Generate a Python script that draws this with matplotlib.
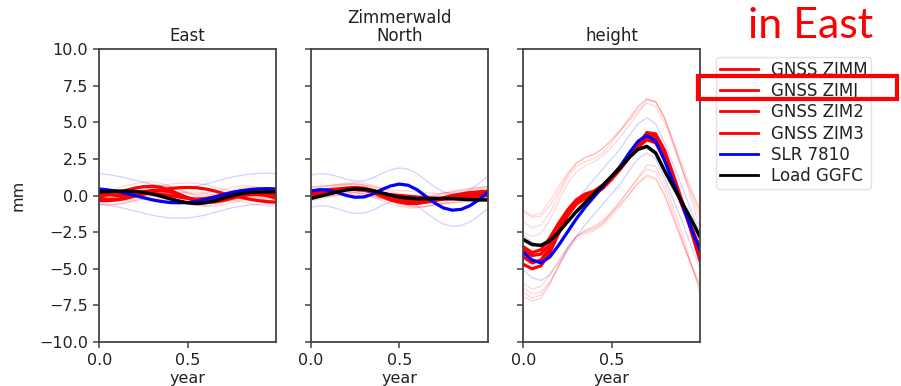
import matplotlib
matplotlib.use("Agg")
import matplotlib.pyplot as plt
from matplotlib.patches import Rectangle
import numpy as np

# ---------------- data ----------------
t = [0.00, 0.05, 0.10, 0.15, 0.20, 0.25, 0.30, 0.35, 0.40, 0.45, 0.50,
     0.55, 0.60, 0.65, 0.70, 0.75, 0.80, 0.85, 0.90, 0.95, 1.00]

series_labels = ["GNSS ZIMM", "GNSS ZIMJ", "GNSS ZIM2", "GNSS ZIM3", "SLR 7810", "Load GGFC"]
panel_titles = ["East", "Zimmerwald\nNorth", "height"]

# East
east_zimm = [-0.05, 0.05, 0.2, 0.35, 0.5, 0.6, 0.63, 0.55, 0.35, 0.1, -0.15,
             -0.35, -0.45, -0.45, -0.35, -0.2, -0.05, 0.05, 0.05, 0.0, -0.1]
east_zimj = [-0.35, -0.35, -0.3, -0.2, -0.05, 0.1, 0.25, 0.38, 0.47, 0.53, 0.55,
             0.53, 0.45, 0.32, 0.15, 0.0, -0.12, -0.25, -0.35, -0.42, -0.45]
east_zim2 = [0.1, 0.05, 0.0, 0.0, 0.1, 0.25, 0.35, 0.35, 0.25, 0.05, -0.15,
             -0.3, -0.35, -0.3, -0.15, 0.0, 0.15, 0.2, 0.2, 0.15, 0.1]
east_zim3 = [-0.2, -0.25, -0.25, -0.15, 0.0, 0.1, 0.15, 0.1, 0.0, -0.1, -0.2,
             -0.25, -0.2, -0.1, 0.05, 0.2, 0.3, 0.3, 0.2, 0.0, -0.2]
east_slr = [0.45, 0.38, 0.28, 0.15, 0.0, -0.15, -0.3, -0.4, -0.48, -0.5, -0.48,
            -0.4, -0.28, -0.12, 0.05, 0.2, 0.32, 0.4, 0.45, 0.47, 0.45]
east_load = [0.25, 0.27, 0.3, 0.3, 0.28, 0.22, 0.1, -0.05, -0.22, -0.38, -0.5,
             -0.55, -0.5, -0.38, -0.2, -0.02, 0.12, 0.2, 0.24, 0.25, 0.25]
east_gnss_sigma = [0.3, 0.3, 0.35, 0.35]
east_slr_sigma = 1.05

# North
north_zimm = [0.3, 0.35, 0.4, 0.45, 0.5, 0.5, 0.4, 0.2, -0.05, -0.3, -0.45,
              -0.55, -0.55, -0.45, -0.3, -0.15, 0.0, 0.1, 0.2, 0.25, 0.3]
north_zimj = [0.1, 0.2, 0.3, 0.4, 0.5, 0.55, 0.5, 0.35, 0.15, -0.05, -0.2,
              -0.35, -0.42, -0.4, -0.3, -0.2, -0.1, 0.0, 0.1, 0.2, 0.25]
north_zim2 = [-0.05, 0.05, 0.2, 0.35, 0.45, 0.5, 0.45, 0.3, 0.1, -0.1, -0.3,
              -0.45, -0.5, -0.45, -0.35, -0.25, -0.2, -0.15, -0.1, -0.05, 0.0]
north_zim3 = [0.2, 0.25, 0.3, 0.35, 0.4, 0.4, 0.35, 0.25, 0.15, 0.05, 0.0,
              -0.05, -0.1, -0.15, -0.2, -0.2, -0.15, -0.1, 0.0, 0.1, 0.2]
north_slr = [0.3, 0.4, 0.35, 0.2, 0.0, -0.12, -0.1, 0.1, 0.4, 0.65, 0.78,
             0.7, 0.4, -0.05, -0.5, -0.85, -1.0, -0.95, -0.7, -0.3, 0.2]
north_load = [-0.2, -0.05, 0.1, 0.25, 0.38, 0.45, 0.43, 0.33, 0.18, 0.03, -0.1,
              -0.18, -0.22, -0.22, -0.2, -0.2, -0.22, -0.25, -0.28, -0.3, -0.3]
north_gnss_sigma = [0.3, 0.35, 0.3, 0.35]
north_slr_sigma = 1.1

# height
height_zimm = [-4.2, -4.6, -4.4, -3.6, -2.4, -1.2, -0.4, -0.1, 0.1, 0.5, 1.2,
               2.0, 2.8, 3.6, 4.2, 4.0, 2.9, 1.2, -0.6, -2.3, -3.9]
height_zimj = [-3.7, -4.1, -4.0, -3.3, -2.3, -1.2, -0.4, 0.0, 0.2, 0.6, 1.2,
               1.9, 2.7, 3.5, 4.0, 3.8, 2.7, 1.1, -0.5, -2.1, -3.6]
height_zim2 = [-4.7, -5.0, -4.8, -3.9, -2.6, -1.4, -0.6, -0.2, 0.1, 0.5, 1.1,
               1.8, 2.6, 3.4, 4.3, 4.2, 3.1, 1.4, -0.4, -2.4, -4.4]
height_zim3 = [-3.5, -3.9, -3.7, -2.9, -1.9, -1.0, -0.3, 0.1, 0.3, 0.7, 1.3,
               1.9, 2.6, 3.3, 3.8, 3.6, 2.5, 0.9, -0.7, -2.2, -3.5]
height_slr = [-3.9, -4.4, -4.6, -4.2, -3.4, -2.5, -1.6, -0.8, -0.1, 0.6, 1.3,
              2.0, 2.9, 3.7, 4.1, 3.7, 2.4, 0.9, -0.6, -2.2, -3.7]
height_load = [-3.0, -3.35, -3.4, -3.1, -2.5, -1.8, -1.1, -0.5, 0.1, 0.7, 1.3,
               1.9, 2.6, 3.15, 3.35, 2.9, 1.7, 0.6, -0.5, -1.6, -2.8]
height_gnss_sigma = [2.4, 2.6, 2.2, 2.5]
height_slr_sigma = 1.2

panels = [
    ([east_zimm, east_zimj, east_zim2, east_zim3], east_slr, east_load, east_gnss_sigma, east_slr_sigma),
    ([north_zimm, north_zimj, north_zim2, north_zim3], north_slr, north_load, north_gnss_sigma, north_slr_sigma),
    ([height_zimm, height_zimj, height_zim2, height_zim3], height_slr, height_load, height_gnss_sigma, height_slr_sigma),
]

y_ticks = [-10.0, -7.5, -5.0, -2.5, 0.0, 2.5, 5.0, 7.5, 10.0]
x_ticks = [0.0, 0.5]

# ---------------- figure ----------------
plt.rcParams['font.family'] = ['DejaVu Sans']
fig = plt.figure(figsize=(9.01, 3.86), dpi=100)

W, H = 901.0, 386.0
lefts = [99.3, 311.0, 523.3]
ax_w = 176.5
top_px, bot_px = 49.0, 342.0
FS = 11.5
TXT = '#222222'

axes = []
tt = np.array(t)
for i, (gnss, slr, load, gsig, ssig) in enumerate(panels):
    ax = fig.add_axes([lefts[i] / W, 1 - bot_px / H, ax_w / W, (bot_px - top_px) / H])
    axes.append(ax)
    # faint uncertainty lines
    for g, s in zip(gnss, gsig):
        g = np.array(g)
        ax.plot(tt, g + s, color='red', lw=0.9, alpha=0.16)
        ax.plot(tt, g - s, color='red', lw=0.9, alpha=0.16)
    sl = np.array(slr)
    ax.plot(tt, sl + ssig, color='blue', lw=0.9, alpha=0.18)
    ax.plot(tt, sl - ssig, color='blue', lw=0.9, alpha=0.18)
    # main lines
    for j, g in enumerate(gnss):
        ax.plot(tt, g, color='red', lw=2.3, label=series_labels[j] if i == 0 else None)
    ax.plot(tt, slr, color='blue', lw=2.3, label=series_labels[4] if i == 0 else None)
    ax.plot(tt, load, color='black', lw=2.5, label=series_labels[5] if i == 0 else None)

    ax.set_xlim(0, 1.0)
    ax.set_ylim(-10, 10)
    ax.set_xticks(x_ticks)
    ax.set_xticklabels([f"{v:.1f}" for v in x_ticks], fontsize=FS, color=TXT)
    ax.set_yticks(y_ticks)
    if i == 0:
        ax.set_yticklabels([f"{v:.1f}".replace('-', '\u2212') for v in y_ticks], fontsize=FS, color=TXT)
        ax.set_ylabel("mm", fontsize=FS, color=TXT, labelpad=10)
    else:
        ax.set_yticklabels([])
    ax.set_xlabel("year", fontsize=FS, color=TXT, labelpad=2)
    ax.set_title(panel_titles[i], fontsize=12, color=TXT, pad=5.5, linespacing=1.05)
    for sp in ax.spines.values():
        sp.set_color('#444444')
        sp.set_linewidth(1.3)
    ax.tick_params(direction='out', length=4.5, width=1.1, color='#444444', pad=3.5)

handles, labels = axes[0].get_legend_handles_labels()
leg = fig.legend(handles, labels, loc='upper left', bbox_to_anchor=(716 / W, 1 - 57 / H),
                 fontsize=12, handlelength=2.3, handletextpad=0.78, labelspacing=0.2,
                 frameon=True, borderpad=0.22, borderaxespad=0, fancybox=True)
leg.get_frame().set_edgecolor('#dddddd')
leg.get_frame().set_linewidth(1.0)
for ln in leg.get_lines():
    ln.set_linewidth(2.0)
for tx in leg.get_texts():
    tx.set_color(TXT)

# annotation
fig.text(748 / W, 1 - 38 / H, "in East", color='red', fontsize=31, family=['Lato', 'DejaVu Sans'],
         ha='left', va='baseline')
fig.patches.append(Rectangle((698 / W, 1 - 99 / H), 199 / W, 23 / H, transform=fig.transFigure,
                             fill=False, edgecolor='red', linewidth=3.0, zorder=10))

fig.savefig("out.png", dpi=100)
